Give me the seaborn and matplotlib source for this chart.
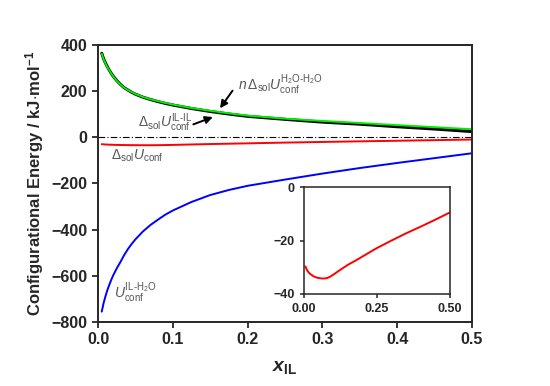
import numpy as np
import pandas as pd
import seaborn as sns
import matplotlib
matplotlib.use("Agg")
import matplotlib.pyplot as plt

# mole fraction of IL
x_il = [0.005, 0.0075, 0.01, 0.0125, 0.015, 0.0175, 0.02, 0.025, 0.03, 0.035,
        0.04, 0.045, 0.05, 0.06, 0.07, 0.08, 0.09, 0.1, 0.125, 0.15,
        0.175, 0.2, 0.25, 0.3, 0.35, 0.4, 0.45, 0.5]

# configurational energies (kJ/mol)
u_h2o_h2o = [362, 338, 320, 304, 290, 277, 265, 245, 228, 215,
             205, 196, 188, 175, 165, 157, 149, 142, 127, 115,
             104, 94, 81, 71, 62, 53, 44, 35]
u_il_il = [364, 340, 322, 306, 291, 278, 266, 246, 229, 215,
           205, 195, 187, 174, 164, 155, 147, 140, 125, 112,
           101, 91, 78, 66, 57, 46, 36, 25]
u_il_h2o = [-755, -718, -688, -662, -640, -619, -600, -568, -540, -510,
            -484, -462, -442, -408, -380, -357, -335, -317, -280, -250,
            -228, -210, -183, -157, -133, -111, -90, -69]
du_sol = [-29.7, -30.4, -31.0, -31.4, -31.8, -32.1, -32.4, -32.8, -33.2, -33.5,
          -33.7, -33.9, -34.0, -34.2, -34.2, -34.0, -33.5, -32.8, -30.9, -29.1,
          -27.6, -26.0, -22.8, -20.0, -17.3, -14.8, -12.2, -9.5]

df = pd.DataFrame({
    "x": x_il,
    "h2o_h2o": u_h2o_h2o,
    "il_il": u_il_il,
    "il_h2o": u_il_h2o,
    "sol": du_sol,
})

sns.set_style("ticks")
plt.rcParams["font.family"] = ["Liberation Sans", "DejaVu Sans"]
plt.rcParams["mathtext.fontset"] = "custom"
plt.rcParams["mathtext.rm"] = "Liberation Sans"
plt.rcParams["mathtext.it"] = "Liberation Sans:italic"
plt.rcParams["mathtext.bf"] = "Liberation Sans:bold"
plt.rcParams["mathtext.bfit"] = "Liberation Sans:bold:italic"

fig = plt.figure(figsize=(5.5, 3.86), dpi=100)
ax = fig.add_axes([98 / 550, 1 - 322 / 386, 374 / 550, 277 / 386])

ax.axhline(0, color="black", lw=0.8, ls=(0, (6, 2, 1, 2)))
sns.lineplot(data=df, x="x", y="il_il", color="black", lw=2.2, ax=ax)
sns.lineplot(data=df, x="x", y="h2o_h2o", color="#00ee00", lw=1.4, ax=ax)
sns.lineplot(data=df, x="x", y="il_h2o", color="#0000ff", lw=1.4, ax=ax)
sns.lineplot(data=df, x="x", y="sol", color="#ff0000", lw=1.4, ax=ax)

ax.set_xlim(0, 0.5)
ax.set_ylim(-800, 400)
ax.set_xticks([0.0, 0.1, 0.2, 0.3, 0.4, 0.5])
ax.set_xticklabels(["0.0", "0.1", "0.2", "0.3", "0.4", "0.5"])
ax.set_yticks(range(-800, 401, 200))
ax.tick_params(labelsize=11.5, width=1.3, length=4, direction="out")
for lab in ax.get_xticklabels() + ax.get_yticklabels():
    lab.set_fontweight("bold")
for sp in ax.spines.values():
    sp.set_linewidth(1.4)
ax.set_xlabel(r"$\mathbfit{x}_{\mathbf{IL}}$", fontsize=14, labelpad=8)
ax.set_ylabel(r"Configurational Energy / kJ$\cdot$mol$^{\mathbf{-1}}$",
              fontsize=12, fontweight="bold", labelpad=4)

gray = "#555555"
ax.text(0.187, 227, r"$n\,\Delta_{\mathrm{sol}}U_{\mathrm{conf}}^{\mathrm{H_2O\text{-}H_2O}}$",
        color=gray, fontsize=10, va="center")
ax.text(0.053, 62, r"$\Delta_{\mathrm{sol}}U_{\mathrm{conf}}^{\mathrm{IL\text{-}IL}}$",
        color=gray, fontsize=10, va="center")
ax.text(0.018, -80, r"$\Delta_{\mathrm{sol}}U_{\mathrm{conf}}$",
        color=gray, fontsize=10, va="center")
ax.text(0.022, -675, r"$U_{\mathrm{conf}}^{\mathrm{IL\text{-}H_2O}}$",
        color=gray, fontsize=10, va="center")

arrow = dict(arrowstyle="-|>", color="black", lw=1.4, mutation_scale=11)
ax.annotate("", xy=(0.161, 116), xytext=(0.182, 212), arrowprops=arrow)
ax.annotate("", xy=(0.157, 92), xytext=(0.124, 52), arrowprops=arrow)

# inset with the solvation energy
ins = fig.add_axes([304 / 550, 1 - 294 / 386, 146 / 550, 107 / 386])
sns.lineplot(data=df, x="x", y="sol", color="#ff0000", lw=1.4, ax=ins)
ins.set_xlim(0, 0.5)
ins.set_ylim(-40, 0)
ins.set_xticks([0.0, 0.25, 0.5])
ins.set_xticklabels(["0.00", "0.25", "0.50"])
ins.set_yticks([-40, -20, 0])
ins.set_xlabel("")
ins.set_ylabel("")
ins.tick_params(labelsize=9, width=1.1, length=3, direction="out")
for lab in ins.get_xticklabels() + ins.get_yticklabels():
    lab.set_fontweight("bold")
for sp in ins.spines.values():
    sp.set_linewidth(1.1)

fig.savefig("out.png", dpi=100)
